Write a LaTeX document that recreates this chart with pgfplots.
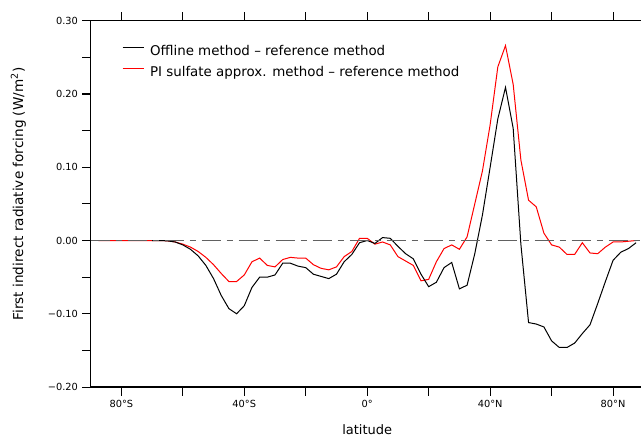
\documentclass[border=0pt]{standalone}
\usepackage{pgfplots}
\pgfplotsset{compat=1.18}
\usepackage{fontspec}
\setmainfont{DejaVu Sans}

\pgfplotstableread{
lat val
-70 0
-67.5 0
-65 -0.0005
-62.5 -0.002
-60 -0.006
-57.5 -0.012
-55 -0.021
-52.5 -0.034
-50 -0.052
-47.5 -0.075
-45 -0.093
-42.5 -0.100
-40 -0.089
-37.5 -0.064
-35 -0.050
-32.5 -0.050
-30 -0.047
-27.5 -0.031
-25 -0.031
-22.5 -0.035
-20 -0.037
-17.5 -0.046
-15 -0.049
-12.5 -0.052
-10 -0.046
-7.5 -0.029
-5 -0.019
-2.5 -0.003
0 0.000
2.5 -0.004
5 0.004
7.5 0.003
10 -0.008
12.5 -0.018
15 -0.025
17.5 -0.046
20 -0.063
22.5 -0.057
25 -0.037
27.5 -0.030
30 -0.066
32.5 -0.061
35 -0.018
37.5 0.035
40 0.100
42.5 0.166
45 0.209
47.5 0.153
50 -0.005
52.5 -0.112
55 -0.114
57.5 -0.118
60 -0.137
62.5 -0.146
65 -0.146
67.5 -0.140
70 -0.127
72.5 -0.115
75 -0.086
77.5 -0.056
80 -0.027
82.5 -0.016
85 -0.011
87.5 -0.003
}\offline

\pgfplotstableread{
lat val
-87.5 0
-85 0
-82.5 0
-80 0
-77.5 0
-75 0
-72.5 0
-70 0
-67.5 0
-65 -0.0005
-62.5 -0.002
-60 -0.005
-57.5 -0.009
-55 -0.015
-52.5 -0.023
-50 -0.033
-47.5 -0.045
-45 -0.056
-42.5 -0.056
-40 -0.047
-37.5 -0.029
-35 -0.024
-32.5 -0.034
-30 -0.036
-27.5 -0.026
-25 -0.023
-22.5 -0.024
-20 -0.024
-17.5 -0.033
-15 -0.038
-12.5 -0.040
-10 -0.036
-7.5 -0.022
-5 -0.015
-2.5 0.003
0 0.003
2.5 -0.005
5 -0.002
7.5 -0.006
10 -0.022
12.5 -0.028
15 -0.034
17.5 -0.055
20 -0.053
22.5 -0.029
25 -0.011
27.5 -0.006
30 -0.012
32.5 0.005
35 0.050
37.5 0.095
40 0.158
42.5 0.237
45 0.266
47.5 0.213
50 0.110
52.5 0.055
55 0.046
57.5 0.010
60 -0.006
62.5 -0.009
65 -0.019
67.5 -0.019
70 -0.003
72.5 -0.017
75 -0.018
77.5 -0.009
80 -0.002
82.5 -0.002
85 -0.001
87.5 0.000
}\pisulf

\pgfplotstableread{
lat val
-90 0
90 0
}\zeroline

\begin{document}
\begin{tikzpicture}
\begin{axis}[
  scale only axis,
  width=553.1pt, height=366.3pt,
  xmin=-90, xmax=90, ymin=-0.2, ymax=0.3,
  axis line style={line width=1.2pt},
  tick align=outside,
  major tick length=8.5pt,
  tick style={line width=1.1pt, black},
  xtick pos=both, ytick pos=left,
  xtick={-80,-60,-40,-20,0,20,40,60,80},
  xticklabels={80°S,,40°S,,0°,,40°N,,80°N},
  ytick={-0.2,-0.15,-0.1,-0.05,0,0.05,0.1,0.15,0.2,0.25,0.3},
  yticklabels={−0.20,,−0.10,,0.00,,0.10,,0.20,,0.30},
  ticklabel style={font=\fontsize{9.8}{11}\selectfont},
  xticklabel style={inner sep=0pt, anchor=north, yshift=-4pt},
  yticklabel style={inner sep=0pt, anchor=east, xshift=-4pt},
  xlabel={latitude},
  ylabel={First indirect radiative forcing (W/m\textsuperscript{2})},
  every axis x label/.style={at={(rel axis cs:0.5,0)}, yshift=-42.5pt, anchor=center, font=\fontsize{13}{15}\selectfont},
  every axis y label/.style={at={(rel axis cs:0,0.527)}, xshift=-72.3pt, rotate=90, anchor=center, font=\fontsize{13.6}{15}\selectfont},
  reverse legend,
  legend cell align=left,
  legend image code/.code={\draw[#1] (0pt,4.9pt) -- (21pt,4.9pt);},
  legend style={draw=none, fill=none, at={(0,1)}, anchor=north west,
    xshift=31.4pt, yshift=-24.9pt, inner sep=0pt, outer sep=0pt, row sep=8.3pt,
    nodes={inner sep=0pt, text height=10pt, text depth=3pt, font=\fontsize{13.4}{15}\selectfont},
    /tikz/every odd column/.append style={column sep=6pt}},
]
\addplot[red, line width=1pt] table[x=lat, y=val] {\pisulf};
\addlegendentry{PI sulfate approx. method – reference method}
\addplot[black, line width=1pt] table[x=lat, y=val] {\offline};
\addlegendentry{Offline method – reference method}
\addplot[color=black!62, line width=1.3pt, dash pattern=on 19pt off 6pt on 6pt off 6pt, forget plot] table[x=lat, y=val] {\zeroline};
\coordinate (ll) at (rel axis cs:0,0);
\coordinate (ur) at (rel axis cs:1,1);
\end{axis}
\pgfresetboundingbox
\useasboundingbox ([xshift=-90.6pt, yshift=-50pt]ll) rectangle ([xshift=-2.8pt, yshift=20.7pt]ur);
\end{tikzpicture}
\end{document}
